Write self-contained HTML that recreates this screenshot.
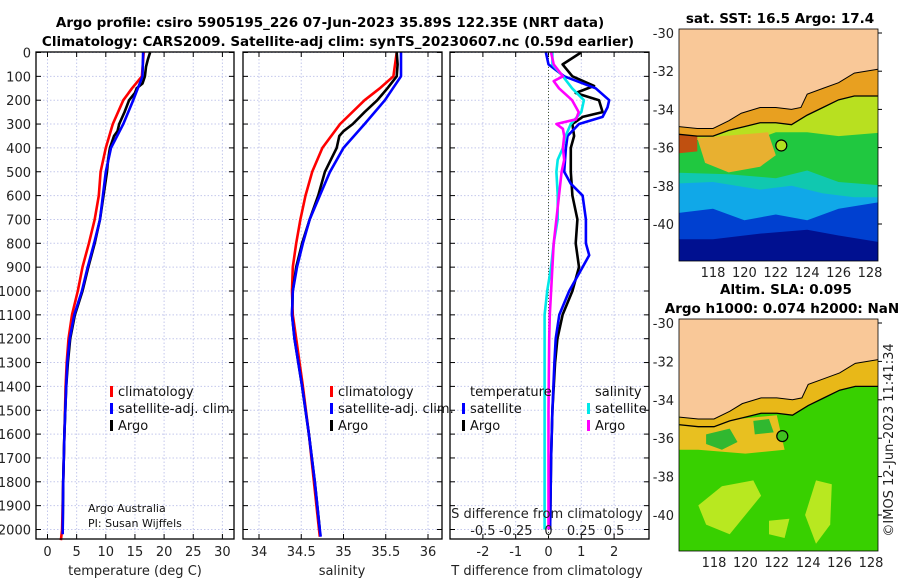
<!DOCTYPE html>
<html><head><meta charset="utf-8"><style>
html,body{margin:0;padding:0;background:#fff;}
svg{display:block;font-family:"DejaVu Sans","Liberation Sans",sans-serif;}
</style></head><body>
<svg id="fig" width="900" height="580" viewBox="0 0 900 580">
<g id="titles" font-weight="bold" font-size="13.5" text-anchor="middle" fill="#000">
<text x="330" y="27">Argo profile: csiro 5905195_226 07-Jun-2023 35.89S 122.35E (NRT data)</text>
<text x="338" y="46">Climatology: CARS2009. Satellite-adj clim: synTS_20230607.nc (0.59d earlier)</text>
<text x="780" y="23">sat. SST: 16.5 Argo: 17.4</text>
<text x="786" y="294">Altim. SLA: 0.095</text>
<text x="782" y="313">Argo h1000: 0.074 h2000: NaN</text>
</g>
<text x="0" y="0" transform="translate(893,440) rotate(-90)" text-anchor="middle" font-size="13" fill="#222">©IMOS 12-Jun-2023 11:41:34</text>
<g id="plots"></g>
</svg>
<script>
// ---- data (depth in m) ----
const tClimD=[0,100,150,200,300,400,500,600,700,800,900,1000,1100,1200,1300,1400,1600,1800,2000,2045];
const tClimV=[16.5,16.2,14.5,13.0,11.2,10.0,9.1,8.8,8.1,7.1,6.0,5.2,4.2,3.6,3.3,3.1,2.9,2.7,2.5,2.3];
const tSatD=[0,100,200,300,400,500,600,700,800,900,1000,1100,1200,1300,1400,1600,1800,2000,2020];
const tSatV=[16.4,16.3,14.7,13.0,10.9,10.0,9.5,9.0,8.0,6.9,5.9,4.6,3.8,3.4,3.2,2.9,2.7,2.6,2.6];
const tArgoD=[0,30,60,100,130,150,170,200,250,300,330,350,380,400,450,500,600,700,800,900,1000,1100,1200,1300,1400,1600,1800,2000];
const tArgoV=[17.6,17.2,16.9,16.7,16.3,15.3,15.0,14.0,13.2,12.3,12.0,11.4,11.0,10.7,10.4,10.2,9.6,9.0,8.1,7.0,6.0,4.7,3.9,3.5,3.2,2.9,2.7,2.6];
const sClimD=[0,100,150,200,300,400,500,600,700,800,900,1000,1100,1200,1400,1600,1800,2000,2030];
const sClimV=[35.63,35.59,35.43,35.25,34.96,34.75,34.63,34.55,34.49,34.44,34.40,34.39,34.40,34.44,34.52,34.59,34.65,34.71,34.72];
const sSatD=[0,100,200,300,400,500,600,700,800,900,1000,1100,1200,1400,1600,1800,2000,2030];
const sSatV=[35.68,35.68,35.49,35.25,35.00,34.84,34.72,34.60,34.52,34.45,34.40,34.39,34.42,34.51,34.59,34.66,34.72,34.73];
const sArgoD=[0,50,100,150,200,250,300,330,350,400,450,500,600,700,800,900,1000,1100,1200,1400,1600,1800,2000];
const sArgoV=[35.63,35.64,35.63,35.52,35.40,35.25,35.11,35.00,34.95,34.92,34.85,34.78,34.70,34.60,34.51,34.44,34.40,34.39,34.42,34.51,34.59,34.66,34.72];
const dTSatD=[0,50,100,150,200,230,270,300,350,400,500,550,600,700,800,850,900,1000,1100,1200,1300,1500,1700,2000];
const dTSatV=[-0.08,0.0,0.48,1.44,1.85,1.80,1.65,0.93,0.58,0.53,0.48,0.68,1.04,1.14,1.14,1.24,1.04,0.63,0.33,0.22,0.18,0.12,0.08,0.05];
const dTArgoD=[0,50,100,140,170,200,250,270,300,350,400,500,600,700,800,900,1000,1100,1200,1300,1500,1700,2000];
const dTArgoV=[0.99,0.43,0.73,1.39,0.83,1.54,1.65,1.04,0.73,0.78,0.68,0.68,0.73,0.88,0.83,0.93,0.73,0.43,0.27,0.2,0.12,0.08,0.05];
const dSSatD=[0,50,100,150,200,250,300,350,400,450,500,600,700,800,900,1000,1100,1200,1500,2000];
const dSSatV=[0.03,0.03,0.11,0.18,0.27,0.25,0.17,0.13,0.11,0.07,0.06,0.07,0.07,0.04,0.02,-0.01,-0.03,-0.03,-0.03,-0.03];
const dSArgoD=[0,50,100,120,150,200,250,280,300,320,350,400,450,500,600,700,800,900,1000,1100,1200,1500,2000];
const dSArgoV=[0.02,0.04,0.11,0.04,0.08,0.18,0.23,0.21,0.06,0.11,0.12,0.11,0.12,0.10,0.08,0.06,0.04,0.03,0.02,0.01,0.005,0.0,0.0];
const depthTicks=[0,100,200,300,400,500,600,700,800,900,1000,1100,1200,1300,1400,1500,1600,1700,1800,1900,2000];
const tTicks=[0,5,10,15,20,25,30];
const sTicks=[34,34.5,35,35.5,36];
const dTTicks=[-2,-1,0,1,2];
const dSTicks=[-0.5,-0.25,0,0.25,0.5];
const dSTickLabels=["-0.5","-0.25","0","0.25","0.5"];
const latTicks=[-30,-32,-34,-36,-38,-40];
const lonTicks=[118,120,122,124,126,128];

const NS="http://www.w3.org/2000/svg";
const root=document.getElementById('plots');
function mk(tag,attrs,parent,txt){const e=document.createElementNS(NS,tag);for(const k in attrs)e.setAttribute(k,attrs[k]);if(txt!==undefined)e.textContent=txt;(parent||root).appendChild(e);return e;}
const TOP=52,BOT=539;
const yD=d=>52.5+d*0.2385;
const panels=[{x0:36,x1:234,name:'temperature'},{x0:243,x1:442,name:'salinity'},{x0:450,x1:649,name:'difference'}];
const xT=v=>47.5+v*5.83;
const xS=v=>259+(v-34)*84.5;
const xDT=v=>548.5+v*32.8;
const xDS=v=>548.5+v*4*32.8;

function grid(p,xs,g){
  xs.forEach(x=>{const l=mk('line',{x1:x,x2:x,y1:TOP,y2:BOT,stroke:'#c4c8ec','stroke-dasharray':'1.5,2','stroke-width':1},g);

});
  depthTicks.forEach(d=>{const y=yD(d);const l=mk('line',{x1:p.x0,x2:p.x1,y1:y,y2:y,stroke:'#c4c8ec','stroke-dasharray':'1.5,2','stroke-width':1},g);


    mk('line',{x1:p.x0,x2:p.x0+5,y1:y,y2:y,stroke:'#000'},g);mk('line',{x1:p.x1,x2:p.x1-5,y1:y,y2:y,stroke:'#000'},g);});
  xs.forEach(x=>{mk('line',{x1:x,x2:x,y1:BOT,y2:BOT-5,stroke:'#000'},g);mk('line',{x1:x,x2:x,y1:TOP,y2:TOP+5,stroke:'#000'},g);});
}
function line(D,V,fx,col,g,name,w){
  const pts=D.map((d,i)=>fx(V[i]).toFixed(1)+','+yD(d).toFixed(1)).join(' ');
  const pl=mk('polyline',{points:pts,fill:'none',stroke:col,'stroke-width':w||2.6,'stroke-linejoin':'round'},g);
  
  
}
function frame(p,g){const r=mk('rect',{x:p.x0,y:TOP,width:p.x1-p.x0,height:BOT-TOP,fill:'none',stroke:'#000','stroke-width':1.3},g);

}
function legendEntry(x,y,col,txt,g){const r=mk('rect',{x:x,y:y-10,width:3,height:11,fill:col},g);


const t=mk('text',{x:x+8,y:y,'font-size':13,fill:'#111'},g,txt);

}

// Panel 1
let g1=mk('g',{});


grid(panels[0],tTicks.map(xT),g1);
line(tClimD,tClimV,xT,'#f00',g1,'temperature-climatology-line');
line(tArgoD,tArgoV,xT,'#000',g1,'temperature-argo-line');
line(tSatD,tSatV,xT,'#0000ff',g1,'temperature-satellite-line');
frame(panels[0],g1);
depthTicks.forEach(d=>{const t=mk('text',{x:31,y:yD(d)+5,'text-anchor':'end','font-size':13,fill:'#222'},g1,String(d));

});
tTicks.forEach(v=>{const t=mk('text',{x:xT(v),y:556,'text-anchor':'middle','font-size':13,fill:'#222'},g1,String(v));

});
let t1=mk('text',{x:135,y:575,'text-anchor':'middle','font-size':13,fill:'#222'},g1,'temperature (deg C)');


legendEntry(110,396,'#f00','climatology',g1);
legendEntry(110,413,'#0000ff','satellite-adj. clim.',g1);
legendEntry(110,430,'#000','Argo',g1);
let a1=mk('text',{x:88,y:512,'font-size':11,fill:'#111'},g1,'Argo Australia');


let a2=mk('text',{x:88,y:527,'font-size':11,fill:'#111'},g1,'PI: Susan Wijffels');



// Panel 2
let g2=mk('g',{});


grid(panels[1],sTicks.map(xS),g2);
line(sClimD,sClimV,xS,'#f00',g2,'salinity-climatology-line');
line(sArgoD,sArgoV,xS,'#000',g2,'salinity-argo-line');
line(sSatD,sSatV,xS,'#0000ff',g2,'salinity-satellite-line');
frame(panels[1],g2);
sTicks.forEach(v=>{const t=mk('text',{x:xS(v),y:556,'text-anchor':'middle','font-size':13,fill:'#222'},g2,String(v));

});
let t2=mk('text',{x:342,y:575,'text-anchor':'middle','font-size':13,fill:'#222'},g2,'salinity');


legendEntry(330,396,'#f00','climatology',g2);
legendEntry(330,413,'#0000ff','satellite-adj. clim.',g2);
legendEntry(330,430,'#000','Argo',g2);

// Panel 3
let g3=mk('g',{});


grid(panels[2],dTTicks.map(xDT),g3);
mk('line',{x1:xDT(0),x2:xDT(0),y1:TOP,y2:BOT,stroke:'#445533','stroke-dasharray':'1,2'},g3);
line(dTArgoD,dTArgoV,xDT,'#000',g3,'t-diff-argo-line');
line(dTSatD,dTSatV,xDT,'#0000ff',g3,'t-diff-satellite-line');
line(dSSatD,dSSatV,xDS,'#00e8e8',g3,'s-diff-satellite-line');
line(dSArgoD,dSArgoV,xDS,'#ff00ff',g3,'s-diff-argo-line');
frame(panels[2],g3);
dTTicks.forEach(v=>{const t=mk('text',{x:xDT(v),y:556,'text-anchor':'middle','font-size':13,fill:'#222'},g3,String(v));

});
dSTicks.forEach((v,i)=>{const t=mk('text',{x:xDS(v),y:535,'text-anchor':'middle','font-size':13,fill:'#222'},g3,dSTickLabels[i]);

});
let t3=mk('text',{x:547,y:575,'text-anchor':'middle','font-size':13,fill:'#222'},g3,'T difference from climatology');


let t4=mk('text',{x:547,y:518,'text-anchor':'middle','font-size':13,fill:'#222'},g3,'S difference from climatology');


let lt=mk('text',{x:470,y:396,'font-size':13,fill:'#111'},g3,'temperature');


let ls=mk('text',{x:595,y:396,'font-size':13,fill:'#111'},g3,'salinity');


legendEntry(462,413,'#0000ff','satellite',g3);
legendEntry(462,430,'#000','Argo',g3);
legendEntry(587,413,'#00e8e8','satellite',g3);
legendEntry(587,430,'#ff00ff','Argo',g3);

// ---- maps ----
const coastLon=[115.8,117,118,119,119.8,121,122,123,123.6,124,125,126,127,128.5];
const coastLat=[-34.9,-35.0,-35.0,-34.6,-34.2,-33.9,-33.9,-34.0,-33.9,-33.2,-32.9,-32.6,-32.1,-31.9];
const shelfLon=[115.8,117,118,119,120,121,122,123,124,125,126,127,128.5];
const shelfLat=[-35.3,-35.4,-35.4,-35.1,-34.9,-34.7,-34.7,-34.8,-34.3,-33.9,-33.5,-33.3,-33.3];
const argoLon=122.35, argoLat=-35.89;
function drawMap(m){
  const g=mk('g',{});
  
  
  const X=lon=>m.lx0+(lon-118)*m.kx, Y=lat=>m.ly0+(-30-lat)*m.ky;
  const cid='clip'+m.name;
  const cp=mk('clipPath',{id:cid},g);mk('rect',{x:m.x0,y:m.y0,width:m.x1-m.x0,height:m.y1-m.y0},cp);
  const gg=mk('g',{'clip-path':'url(#'+cid+')'},g);
  mk('rect',{x:m.x0,y:m.y0,width:m.x1-m.x0,height:m.y1-m.y0,fill:m.base},gg);
  m.patches.forEach(p=>{const pts=p.pts.map(q=>X(q[0]).toFixed(1)+','+Y(q[1]).toFixed(1)).join(' ');mk('polygon',{points:pts,fill:p.c},gg);});
  // shelf band
  const shelfPts=coastLon.map((l,i)=>X(l)+','+Y(coastLat[i])).concat(shelfLon.slice().reverse().map((l,i,a)=>X(l)+','+Y(shelfLat[shelfLat.length-1-i]))).join(' ');
  mk('polygon',{points:shelfPts,fill:m.shelf},gg);
  const landPts=coastLon.map((l,i)=>X(l)+','+Y(coastLat[i])).join(' ')+' '+X(128.6)+','+Y(-29)+' '+X(115.7)+','+Y(-29);
  const land=mk('polygon',{points:landPts,fill:'#f9c898'},gg);
  
  
  mk('polyline',{points:coastLon.map((l,i)=>X(l)+','+Y(coastLat[i])).join(' '),fill:'none',stroke:'#000','stroke-width':1},gg);
  mk('polyline',{points:shelfLon.map((l,i)=>X(l)+','+Y(shelfLat[i])).join(' '),fill:'none',stroke:'#000','stroke-width':1.3},gg);
  const c=mk('circle',{cx:X(argoLon),cy:Y(argoLat),r:5.5,fill:m.dot,stroke:'#000','stroke-width':1.2},gg);
  
  
  mk('rect',{x:m.x0,y:m.y0,width:m.x1-m.x0,height:m.y1-m.y0,fill:'none',stroke:'#000','stroke-width':0.8},g);
  latTicks.forEach(v=>{const t=mk('text',{x:m.x0-5,y:Y(v)+5,'text-anchor':'end','font-size':13,fill:'#222'},g,String(v));


    mk('line',{x1:m.x1,x2:m.x1+4,y1:Y(v),y2:Y(v),stroke:'#000'},g);});
  lonTicks.forEach(v=>{const t=mk('text',{x:X(v),y:m.y1+16,'text-anchor':'middle','font-size':13,fill:'#222'},g,String(v));

});
}
drawMap({name:'sst-map',x0:679,x1:878,y0:29,y1:261,lx0:713,kx:15.7,ly0:33,ky:19.1,base:'#001090',shelf:'#e8a020',dot:'#b0e020',
 patches:[
  {c:'#0040d0',pts:[[115,-37],[129,-37],[129,-41],[126,-40.6],[124,-40.3],[121,-40.5],[118,-40.8],[115,-40.8]]},
  {c:'#10a8e8',pts:[[115,-36.5],[129,-36.5],[129,-38.8],[126,-39.2],[124,-39.8],[122,-39.5],[120,-39.8],[118,-39.2],[115,-39.5]]},
  {c:'#10c8b0',pts:[[115,-36.3],[129,-36.3],[129,-38.6],[127,-38.6],[125,-38.4],[123,-38.0],[121,-38.2],[118,-37.8],[115,-37.9]]},
  {c:'#20c840',pts:[[115,-34],[129,-32],[129,-38],[126,-37.8],[124,-37.2],[122,-37.6],[119,-37.4],[115,-37.3]]},
  {c:'#b8e020',pts:[[115,-34],[129,-32],[129,-35.2],[126,-35.4],[124,-35.2],[122,-35.2],[121,-35.5],[119,-35.6],[115,-35.6]]},
  {c:'#e8b030',pts:[[117,-35.5],[121.5,-35.2],[122,-36.4],[121,-37],[119,-37.3],[117.5,-36.8]]},
  {c:'#c05010',pts:[[115.8,-35.2],[117,-35.3],[117,-36.2],[115.8,-36.3]]}
 ]});
drawMap({name:'sla-map',x0:679,x1:878,y0:319,y1:551,lx0:714,kx:15.7,ly0:323,ky:19.2,base:'#38d000',shelf:'#e8b818',dot:'#40c020',
 patches:[
  {c:'#e8c020',pts:[[115.8,-35.3],[122,-34.8],[122.5,-36.6],[120,-36.8],[117,-36.6],[115.8,-36.6]]},
  {c:'#30b830',pts:[[117.5,-35.8],[119,-35.5],[119.5,-36.2],[118.5,-36.6],[117.5,-36.3]]},
  {c:'#30b830',pts:[[120.5,-35.1],[121.5,-35.0],[121.8,-35.7],[120.6,-35.8]]},
  {c:'#b8e820',pts:[[118.5,-38.5],[120.5,-38.2],[121,-39],[120,-40],[119,-41],[117.5,-40.5],[117,-39.5]]},
  {c:'#b8e820',pts:[[124.5,-38.2],[125.5,-38.4],[125.4,-40.5],[124.5,-41.5],[123.8,-40]]},
  {c:'#b8e820',pts:[[121.5,-40.3],[122.8,-40.2],[122.5,-41.2],[121.5,-41]]},
  {c:'#d06010',pts:[[124,-33.2],[128.6,-31.8],[128.6,-32.6],[124,-33.6]]}
 ]});
</script>
</body></html>
